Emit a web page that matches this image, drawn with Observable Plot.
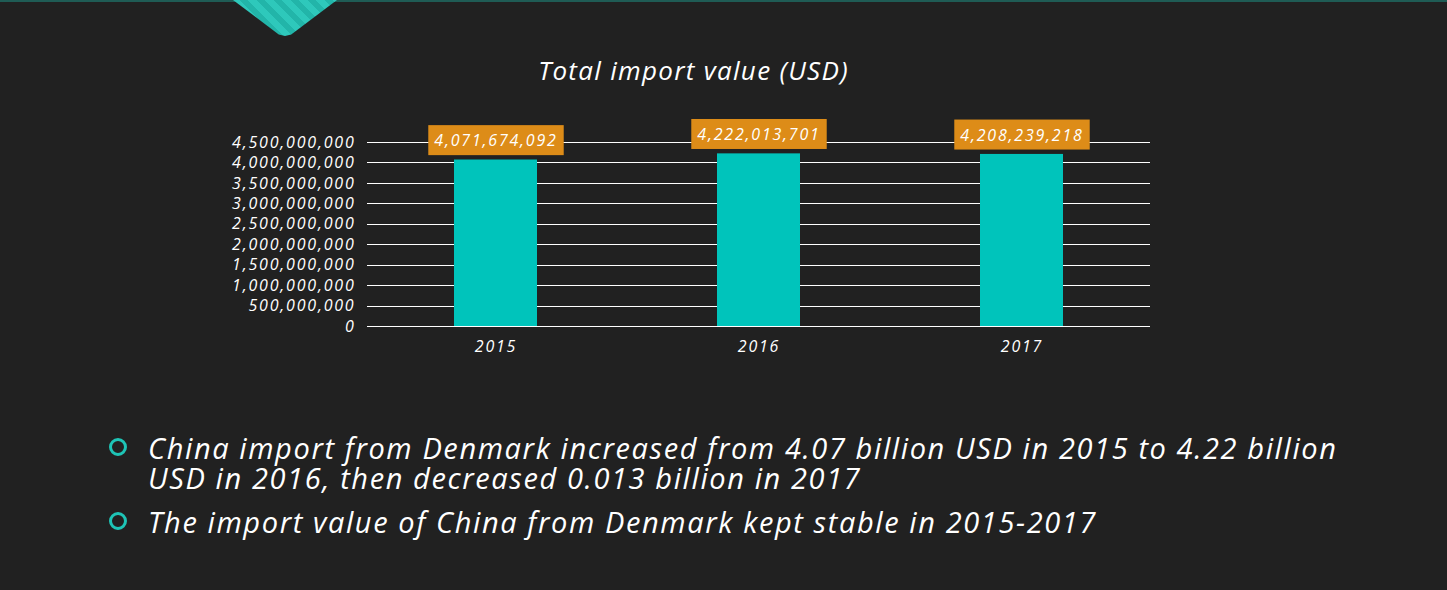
<!DOCTYPE html>
<html><head><meta charset="utf-8">
<script src="https://cdn.jsdelivr.net/npm/d3@7"></script>
<script src="https://cdn.jsdelivr.net/npm/@observablehq/plot@0.6"></script>
<style>
html,body{margin:0;padding:0;}
body{width:1447px;height:590px;background:#212121;position:relative;overflow:hidden;font-family:"Open Sans",sans-serif;color:#fff;}
#topline{position:absolute;left:0;top:0;width:1447px;height:2px;background:#1f5c55;}
#chev{position:absolute;left:233px;top:0;width:104px;height:36px;clip-path:polygon(0 0,100% 0,56% 96%,50% 100%,44% 96%);
 background:repeating-linear-gradient(45deg,#2ec8bb 0 6px,#22b5a9 6px 12px);}
#title{position:absolute;left:0;width:1387px;top:52px;text-align:center;font-size:26px;font-style:italic;letter-spacing:1.3px;}
#chart{position:absolute;left:0;top:100px;}
#chart svg text{letter-spacing:1.8px;}
.bul{position:absolute;left:148px;font-size:29px;font-style:italic;line-height:30px;letter-spacing:1.6px;white-space:nowrap;}
.dot{position:absolute;left:109px;width:12px;height:12px;border:3px solid #1ec4b6;border-radius:50%;}
</style></head>
<body>
<div id="topline"></div>
<div id="chev"></div>
<div id="title">Total import value (USD)</div>
<div id="chart"></div>
<div class="dot" style="top:438px"></div>
<div class="bul" style="top:433px">China import from Denmark increased from 4.07 billion USD in 2015 to 4.22 billion<br>USD in 2016, then decreased 0.013 billion in 2017</div>
<div class="dot" style="top:512px"></div>
<div class="bul" style="top:507px">The import value of China from Denmark kept stable in 2015-2017</div>
<script>
const years = ["2015", "2016", "2017"];
const values = [4071674092, 4222013701, 4208239218];
const yTicks = [0, 5e8, 1e9, 1.5e9, 2e9, 2.5e9, 3e9, 3.5e9, 4e9, 4.5e9];
const data = years.map((y, i) => ({year: y, value: values[i]}));
const fmt = d3.format(",");
const plot = Plot.plot({
  width: 1447, height: 270,
  marginLeft: 367, marginRight: 297, marginTop: 42, marginBottom: 44,
  style: {background: "transparent", color: "#fff", fontFamily: "'Open Sans', sans-serif", fontSize: "16px", fontStyle: "italic", overflow: "visible"},
  x: {domain: years, paddingInner: 0.686, paddingOuter: 0.33, label: null, tickSize: 0, tickPadding: 14},
  y: {domain: [0, 4.5e9], ticks: yTicks, tickFormat: fmt, label: null, tickSize: 0, tickPadding: 12},
  marks: [
    Plot.ruleY(yTicks, {stroke: "#fff", strokeWidth: 1, strokeOpacity: 1, shapeRendering: "crispEdges"}),
    Plot.barY(data, {x: "year", y: "value", fill: "#00c4bb"}),
    Plot.text(data, {x: "year", y: "value", text: d => fmt(d.value), dy: -19, fill: "#fff", fontSize: 16, className: "vlabel"})
  ]
});
document.getElementById("chart").appendChild(plot);
// orange boxes behind labels
plot.querySelectorAll(".vlabel text").forEach(t => {
  const b = t.getBBox();
  const r = document.createElementNS("http://www.w3.org/2000/svg", "rect");
  const padX = 6, padY = 4;
  r.setAttribute("x", b.x - padX);
  r.setAttribute("y", b.y - padY);
  r.setAttribute("width", b.width + 2 * padX);
  r.setAttribute("height", b.height + 2 * padY);
  r.setAttribute("fill", "#dd8c18");
  const tr = t.getAttribute("transform");
  if (tr) r.setAttribute("transform", tr);
  t.parentNode.insertBefore(r, t);
});
</script>
</body></html>
